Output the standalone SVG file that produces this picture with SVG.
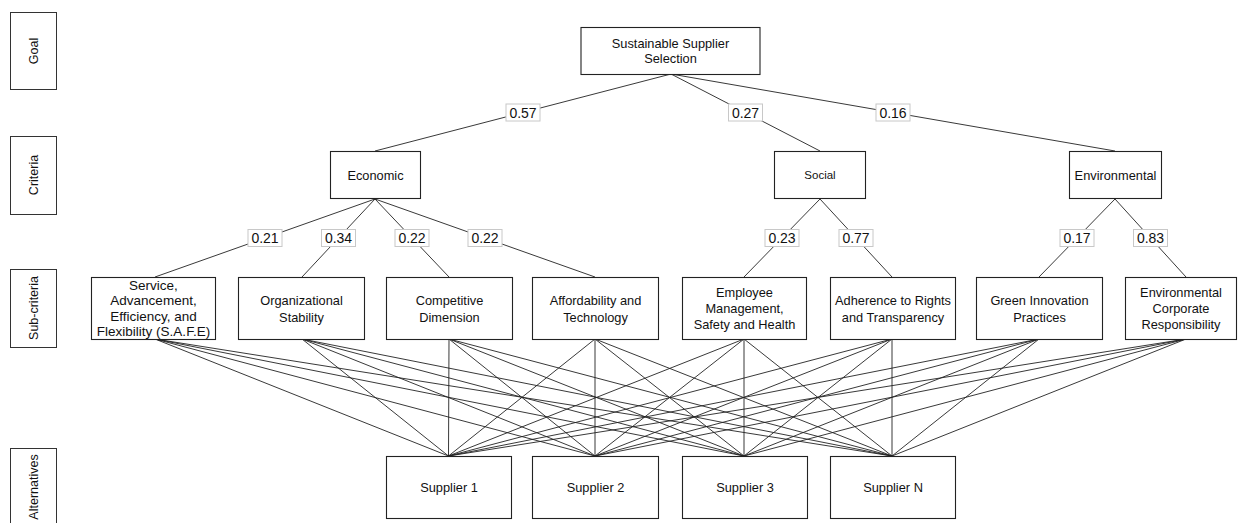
<svg xmlns="http://www.w3.org/2000/svg" width="1243" height="523" viewBox="0 0 1243 523">
<style>
  .box{fill:#fff;stroke:#222;stroke-width:1.1}
  .side{fill:#fff;stroke:#333;stroke-width:1}
  .t{font-family:"Liberation Sans",Arial,sans-serif;font-size:12.8px;fill:#111;text-anchor:middle}
  .ts{font-family:"Liberation Sans",Arial,sans-serif;font-size:12.5px;fill:#111;text-anchor:middle}
  .lbl{fill:#fff;stroke:#c8c8c8;stroke-width:1}
  .lt{font-family:"Liberation Sans",Arial,sans-serif;font-size:14px;fill:#111;text-anchor:middle}
  .c line{stroke:#222;stroke-width:0.9}
</style>

<!-- side level labels -->
<g id="level-goal"><rect class="side" x="10.5" y="12.5" width="46" height="77"/><text class="ts" transform="translate(38,51) rotate(-90)">Goal</text></g>
<g id="level-criteria"><rect class="side" x="10.5" y="136.5" width="46" height="78"/><text class="ts" transform="translate(38,175) rotate(-90)">Criteria</text></g>
<g id="level-subcriteria"><rect class="side" x="10.5" y="269.5" width="46" height="78"/><text class="ts" transform="translate(38,308) rotate(-90)">Sub-criteria</text></g>
<g id="level-alternatives"><rect class="side" x="10.5" y="448.5" width="46" height="80"/><text class="ts" transform="translate(38,487) rotate(-90)">Alternatives</text></g>

<!-- connectors -->
<g id="connectors" class="c">
  <line x1="671" y1="74" x2="375" y2="151"/>
  <line x1="671" y1="74" x2="820" y2="151"/>
  <line x1="671" y1="74" x2="1115" y2="151"/>
  <line x1="375" y1="199" x2="155" y2="277"/>
  <line x1="375" y1="199" x2="302" y2="277"/>
  <line x1="375" y1="199" x2="449" y2="277"/>
  <line x1="375" y1="199" x2="595" y2="277"/>
  <line x1="820" y1="199" x2="744" y2="277"/>
  <line x1="820" y1="199" x2="892" y2="277"/>
  <line x1="1115" y1="199" x2="1039" y2="277"/>
  <line x1="1115" y1="199" x2="1186" y2="277"/>
  <!-- sub-criteria to suppliers -->
  <line x1="155" y1="339" x2="448.5" y2="456"/><line x1="155" y1="339" x2="595" y2="456"/><line x1="155" y1="339" x2="744" y2="456"/><line x1="155" y1="339" x2="892" y2="456"/>
  <line x1="302" y1="339" x2="448.5" y2="456"/><line x1="302" y1="339" x2="595" y2="456"/><line x1="302" y1="339" x2="744" y2="456"/><line x1="302" y1="339" x2="892" y2="456"/>
  <line x1="449" y1="339" x2="448.5" y2="456"/><line x1="449" y1="339" x2="595" y2="456"/><line x1="449" y1="339" x2="744" y2="456"/><line x1="449" y1="339" x2="892" y2="456"/>
  <line x1="595" y1="339" x2="448.5" y2="456"/><line x1="595" y1="339" x2="595" y2="456"/><line x1="595" y1="339" x2="744" y2="456"/><line x1="595" y1="339" x2="892" y2="456"/>
  <line x1="744" y1="339" x2="448.5" y2="456"/><line x1="744" y1="339" x2="595" y2="456"/><line x1="744" y1="339" x2="744" y2="456"/><line x1="744" y1="339" x2="892" y2="456"/>
  <line x1="892" y1="339" x2="448.5" y2="456"/><line x1="892" y1="339" x2="595" y2="456"/><line x1="892" y1="339" x2="744" y2="456"/><line x1="892" y1="339" x2="892" y2="456"/>
  <line x1="1039" y1="339" x2="448.5" y2="456"/><line x1="1039" y1="339" x2="595" y2="456"/><line x1="1039" y1="339" x2="744" y2="456"/><line x1="1039" y1="339" x2="892" y2="456"/>
  <line x1="1186" y1="339" x2="448.5" y2="456"/><line x1="1186" y1="339" x2="595" y2="456"/><line x1="1186" y1="339" x2="744" y2="456"/><line x1="1186" y1="339" x2="892" y2="456"/>
</g>

<!-- weight labels -->
<g id="weights">
  <rect class="lbl" x="506" y="104" width="34" height="17"/><text class="lt" x="523" y="117.5">0.57</text>
  <rect class="lbl" x="728.5" y="104" width="34" height="17"/><text class="lt" x="745.5" y="117.5">0.27</text>
  <rect class="lbl" x="876" y="104" width="34" height="17"/><text class="lt" x="893" y="117.5">0.16</text>
  <rect class="lbl" x="248" y="229.5" width="34" height="17"/><text class="lt" x="265" y="243">0.21</text>
  <rect class="lbl" x="321.5" y="229.5" width="34" height="17"/><text class="lt" x="338.5" y="243">0.34</text>
  <rect class="lbl" x="395" y="229.5" width="34" height="17"/><text class="lt" x="412" y="243">0.22</text>
  <rect class="lbl" x="468" y="229.5" width="34" height="17"/><text class="lt" x="485" y="243">0.22</text>
  <rect class="lbl" x="765" y="229.5" width="34" height="17"/><text class="lt" x="782" y="243">0.23</text>
  <rect class="lbl" x="839" y="229.5" width="34" height="17"/><text class="lt" x="856" y="243">0.77</text>
  <rect class="lbl" x="1060" y="229.5" width="34" height="17"/><text class="lt" x="1077" y="243">0.17</text>
  <rect class="lbl" x="1133.5" y="229.5" width="34" height="17"/><text class="lt" x="1150.5" y="243">0.83</text>
</g>

<!-- goal -->
<g id="goal"><rect class="box" x="581" y="27.5" width="179" height="47"/>
  <text class="t" x="670.5" y="47.5">Sustainable Supplier</text><text class="t" x="670.5" y="63">Selection</text></g>

<!-- criteria -->
<g id="economic"><rect class="box" x="330.5" y="151.5" width="90" height="47"/><text class="t" x="375.5" y="179.5">Economic</text></g>
<g id="social"><rect class="box" x="774.5" y="151.5" width="91" height="47"/><text class="t" style="font-size:11.5px" x="820" y="179">Social</text></g>
<g id="environmental"><rect class="box" x="1069.5" y="151.5" width="92" height="47"/><text class="t" x="1115.5" y="179.5">Environmental</text></g>

<!-- sub-criteria -->
<g id="safe"><rect class="box" x="91.5" y="277.5" width="124" height="62"/>
  <text class="t" style="font-size:13.5px" x="153.5"><tspan x="153.5" y="289.5">Service,</tspan><tspan x="153.5" y="305">Advancement,</tspan><tspan x="153.5" y="320.5">Efficiency, and</tspan><tspan x="153.5" y="336">Flexibility (S.A.F.E)</tspan></text></g>
<g id="org-stability"><rect class="box" x="238.5" y="277.5" width="126" height="62"/>
  <text class="t" x="301.5"><tspan x="301.5" y="304.5">Organizational</tspan><tspan x="301.5" y="321.5">Stability</tspan></text></g>
<g id="competitive"><rect class="box" x="386.5" y="277.5" width="126" height="62"/>
  <text class="t" x="449.5"><tspan x="449.5" y="304.5">Competitive</tspan><tspan x="449.5" y="321.5">Dimension</tspan></text></g>
<g id="affordability"><rect class="box" x="532.5" y="277.5" width="126" height="62"/>
  <text class="t" x="595.5"><tspan x="595.5" y="304.5">Affordability and</tspan><tspan x="595.5" y="321.5">Technology</tspan></text></g>
<g id="employee"><rect class="box" x="682.5" y="277.5" width="124" height="62"/>
  <text class="t" x="744.5"><tspan x="744.5" y="296.5">Employee</tspan><tspan x="744.5" y="312.5">Management,</tspan><tspan x="744.5" y="328.5">Safety and Health</tspan></text></g>
<g id="adherence"><rect class="box" x="830.5" y="277.5" width="125" height="62"/>
  <text class="t" x="893"><tspan x="893" y="304.5">Adherence to Rights</tspan><tspan x="893" y="321.5">and Transparency</tspan></text></g>
<g id="green"><rect class="box" x="976.5" y="277.5" width="126" height="62"/>
  <text class="t" x="1039.5"><tspan x="1039.5" y="304.5">Green Innovation</tspan><tspan x="1039.5" y="321.5">Practices</tspan></text></g>
<g id="ecr"><rect class="box" x="1125.5" y="277.5" width="111" height="62"/>
  <text class="t" x="1181"><tspan x="1181" y="296.5">Environmental</tspan><tspan x="1181" y="312.5">Corporate</tspan><tspan x="1181" y="328.5">Responsibility</tspan></text></g>

<!-- alternatives -->
<g id="supplier-1"><rect class="box" x="386.5" y="456.5" width="125" height="62"/><text class="t" x="449" y="492">Supplier 1</text></g>
<g id="supplier-2"><rect class="box" x="532.5" y="456.5" width="126" height="62"/><text class="t" x="595.5" y="492">Supplier 2</text></g>
<g id="supplier-3"><rect class="box" x="682.5" y="456.5" width="125" height="62"/><text class="t" x="745" y="492">Supplier 3</text></g>
<g id="supplier-n"><rect class="box" x="830.5" y="456.5" width="125" height="62"/><text class="t" x="893" y="492">Supplier N</text></g>
</svg>
